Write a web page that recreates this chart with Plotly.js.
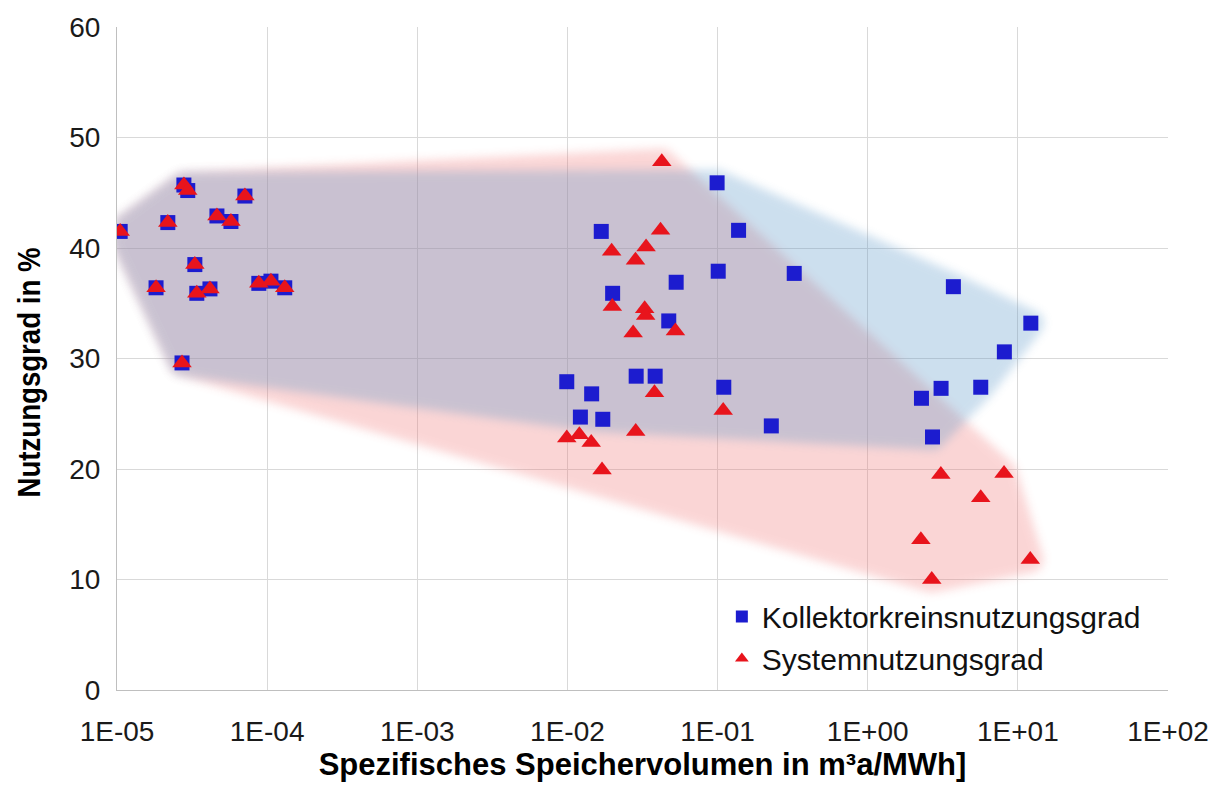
<!DOCTYPE html>
<html><head><meta charset="utf-8">
<script src="https://cdn.plot.ly/plotly-3.0.1.min.js"></script>
<style>html,body{margin:0;padding:0;background:#fff}#chart{width:1223px;height:786px}</style>
</head><body><div id="chart"></div>
<script>
// Kollektorkreisnutzungsgrad (blue squares)
const kollX = [1.05e-5, 1.82e-5, 2.18e-5, 2.79e-5, 2.96e-5, 2.71e-5, 3.3e-5, 3.4e-5, 4.16e-5, 4.63e-5, 5.74e-5, 7.11e-5, 8.8e-5, 1.06e-4, 1.31e-4,
  0.0993, 0.0168, 0.138, 0.101, 0.324, 0.053, 0.020, 0.0473, 0.0099, 0.0287, 0.0384, 0.0145, 0.110, 0.0122, 0.0172, 0.228,
  3.72, 12.2, 8.13, 3.08, 5.66, 2.28, 2.70];
const kollY = [41.5, 36.4, 42.3, 45.7, 45.2, 29.6, 38.5, 35.9, 36.3, 42.9, 42.4, 44.7, 36.8, 37.0, 36.4,
  45.9, 41.5, 41.6, 37.9, 37.7, 36.9, 35.9, 33.4, 27.9, 28.4, 28.4, 26.8, 27.4, 24.7, 24.5, 23.9,
  36.5, 33.2, 30.6, 27.3, 27.4, 26.4, 22.9];
// Systemnutzungsgrad (red triangles)
const sysX = [1.05e-5, 1.82e-5, 2.18e-5, 2.79e-5, 2.96e-5, 2.71e-5, 3.3e-5, 3.4e-5, 4.16e-5, 4.63e-5, 5.74e-5, 7.11e-5, 8.8e-5, 1.06e-4, 1.31e-4,
  0.0425, 0.0417, 0.0197, 0.0334, 0.0284, 0.0199, 0.0327, 0.0332, 0.0274, 0.0524, 0.038, 0.109, 0.0285, 0.0099, 0.012, 0.0144, 0.017,
  3.07, 8.09, 5.66, 2.26, 12.1, 2.67];
const sysY = [41.5, 36.4, 42.3, 45.7, 45.2, 29.6, 38.5, 35.9, 36.3, 42.9, 42.4, 44.7, 36.8, 37.0, 36.4,
  47.8, 41.6, 39.7, 40.1, 38.9, 34.7, 34.5, 33.9, 32.3, 32.5, 26.9, 25.3, 23.4, 22.8, 23.1, 22.4, 19.9,
  19.5, 19.6, 17.4, 13.6, 11.8, 10.0];
const seriesNames = ['Kollektorkreinsnutzungsgrad', 'Systemnutzungsgrad'];
const tickVals = [1e-5, 1e-4, 1e-3, 1e-2, 1e-1, 1, 10, 100];
const tickText = ['1E-05', '1E-04', '1E-03', '1E-02', '1E-01', '1E+00', '1E+01', '1E+02'];
const yTicks = [0, 10, 20, 30, 40, 50, 60];

function hull(xs, ys) {
  const pts = xs.map((x, i) => [Math.log10(x), ys[i]]);
  pts.sort((a, b) => a[0] - b[0] || a[1] - b[1]);
  const cross = (o, a, b) => (a[0]-o[0])*(b[1]-o[1]) - (a[1]-o[1])*(b[0]-o[0]);
  const lower = [];
  for (const p of pts) { while (lower.length >= 2 && cross(lower[lower.length-2], lower[lower.length-1], p) <= 0) lower.pop(); lower.push(p); }
  const upper = [];
  for (let i = pts.length - 1; i >= 0; i--) { const p = pts[i]; while (upper.length >= 2 && cross(upper[upper.length-2], upper[upper.length-1], p) <= 0) upper.pop(); upper.push(p); }
  upper.pop(); lower.pop();
  const h = lower.concat(upper); h.push(h[0]);
  return {x: h.map(p => Math.pow(10, p[0])), y: h.map(p => p[1])};
}
const hs = hull(sysX, sysY);
const hk = hull(kollX, kollY);

const tickFont = {family: 'Liberation Sans, Arial, sans-serif', size: 28, color: '#1a1a1a'};
const titleFont = {family: 'Liberation Sans, Arial, sans-serif', size: 31, color: '#000', weight: 'bold'};

const data = [
  {x: hs.x, y: hs.y, mode: 'lines', fill: 'toself', fillcolor: 'rgb(240,105,105)', line: {color: 'rgb(240,105,105)', width: 26}, opacity: 0.27, showlegend: false, hoverinfo: 'skip'},
  {x: hk.x, y: hk.y, mode: 'lines', fill: 'toself', fillcolor: 'rgb(90,150,200)', line: {color: 'rgb(90,150,200)', width: 26}, opacity: 0.3, showlegend: false, hoverinfo: 'skip'},
  {x: kollX, y: kollY, name: seriesNames[0], mode: 'markers', type: 'scatter', marker: {symbol: 'square', size: 15, color: '#1c1ccf'}},
  {x: sysX, y: sysY, name: seriesNames[1], mode: 'markers', type: 'scatter', marker: {symbol: 'triangle-up', size: 17, color: '#e8141c'}}
];

const layout = {
  width: 1223, height: 786,
  margin: {l: 117, r: 55, t: 27, b: 96},
  paper_bgcolor: '#fff', plot_bgcolor: '#fff',
  font: tickFont,
  xaxis: {type: 'log', range: [-5, 2], tickvals: tickVals, ticktext: tickText, tickfont: tickFont,
    showgrid: true, gridcolor: '#d9d9d9', gridwidth: 1, showline: true, linecolor: '#bfbfbf', linewidth: 1,
    zeroline: false, ticks: '', ticklabelstandoff: 16,
    title: {text: 'Spezifisches Speichervolumen in m³a/MWh]', font: titleFont, standoff: 6}},
  yaxis: {range: [0, 60], tickvals: yTicks, tickfont: tickFont,
    showgrid: true, gridcolor: '#d9d9d9', gridwidth: 1, showline: true, linecolor: '#bfbfbf', linewidth: 1,
    zeroline: false, ticks: '', ticklabelstandoff: 10,
    title: {text: 'Nutzungsgrad in %', font: titleFont, standoff: 19}},
  legend: {x: 0.5755, y: 0.15, xanchor: 'left', yanchor: 'top', bgcolor: 'rgba(0,0,0,0)',
    font: {family: 'Liberation Sans, Arial, sans-serif', size: 30, color: '#111'},
    itemsizing: 'constant', traceorder: 'normal'},
  showlegend: true
};

const gd = document.getElementById('chart');
Plotly.newPlot(gd, data, layout, {staticPlot: true, displayModeBar: false}).then(() => {
  const ns = 'http://www.w3.org/2000/svg';
  const svg = gd.querySelector('.main-svg');
  let defs = svg.querySelector('defs');
  if (!defs) { defs = document.createElementNS(ns, 'defs'); svg.insertBefore(defs, svg.firstChild); }
  const f = document.createElementNS(ns, 'filter');
  f.setAttribute('id', 'softblur');
  f.setAttribute('x', '-0.2'); f.setAttribute('y', '-0.2');
  f.setAttribute('width', '1.4'); f.setAttribute('height', '1.4');
  const b = document.createElementNS(ns, 'feGaussianBlur');
  b.setAttribute('stdDeviation', '5');
  f.appendChild(b); defs.appendChild(f);
  const traces = gd.querySelectorAll('.scatterlayer .trace');
  [0, 1].forEach(i => {
    if (!traces[i]) return;
    traces[i].setAttribute('filter', 'url(#softblur)');
    traces[i].querySelectorAll('path').forEach(p => { p.style.strokeLinejoin = 'round'; });
  });
  // condensed bold look of the y-axis title, as in the reference
  const yt = gd.querySelector('.g-ytitle text');
  if (yt) {
    yt.setAttribute('textLength', '250');
    yt.setAttribute('lengthAdjust', 'spacingAndGlyphs');
    const g = gd.querySelector('.g-ytitle');
    g.setAttribute('transform', 'translate(0,14)');
  }
});
</script>
</body></html>
